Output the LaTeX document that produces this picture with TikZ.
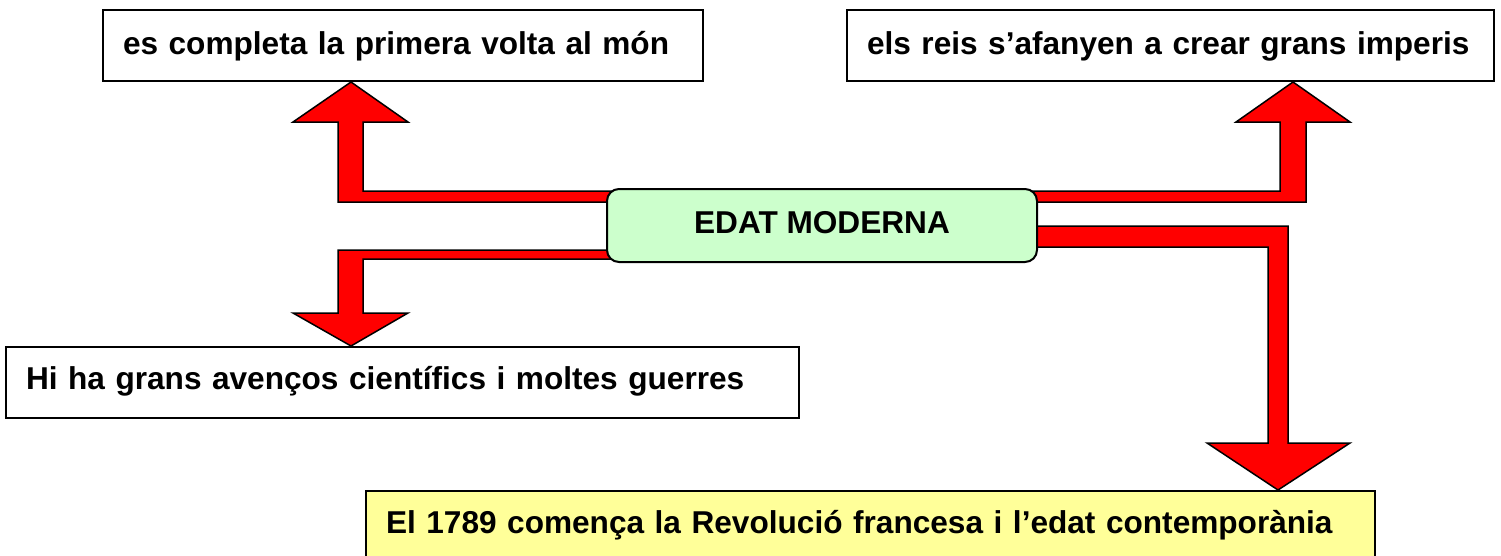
\documentclass[tikz,border=0pt]{standalone}
\usepackage{fontspec}
\setmainfont{Liberation Sans}
\usepackage{xcolor}
\usetikzlibrary{positioning}
\definecolor{menta}{HTML}{CCFFCC}
\definecolor{groc}{HTML}{FFFF99}
\pgfdeclarelayer{background}
\pgfsetlayers{background,main}

\begin{document}
\begin{tikzpicture}[x=1pt, y=-1pt, thick,
	box/.style={draw, line width=2pt, anchor=north west, inner xsep=20pt, inner ysep=0pt, text height=44pt, text depth=27pt, align=left, font=\bfseries\fontsize{31.6}{36}\selectfont},
	bigarrow/.style={draw, fill=red, line width=1.5pt, line join=miter}]
	\useasboundingbox (0,0) rectangle (1501,555);

	\node (centre) at (822,188) [box, anchor=north, fill=menta, rounded corners=12pt, minimum width=430pt, text height=44pt, text depth=29pt] {EDAT MODERNA};
	\node (primera) at (102,9) [box, text width=560pt] {es completa la primera volta al món};
	\node (imperis) at (846,9) [box, text width=607pt] {els reis s’afanyen a crear grans imperis};
	\node (guerres) at (5,346) [box, text width=753pt, text height=42pt, text depth=29pt] {Hi ha grans avenços científics i moltes guerres};
	\node (revolucio) at (365,490) [box, fill=groc, text width=969pt, text height=42pt, text depth=30pt] {El 1789 comença la Revolució francesa i l’edat contemporània};

	% fletxes grosses per darrere de la caixa central
	\begin{pgfonlayer}{background}
	\draw [bigarrow] (centre.center |- 0,191) -- (363,191) -- (363,122) -- (408,122) -- (351,0 |- primera.south) -- (293,122) -- (338,122) -- (338,202) -- (centre.center |- 0,202) -- cycle;
	\draw [bigarrow] (centre.center |- 0,250) -- (338,250) -- (338,313) -- (293,313) -- (351,0 |- guerres.north) -- (408,313) -- (363,313) -- (363,259) -- (centre.center |- 0,259) -- cycle;
	\draw [bigarrow] (centre.center |- 0,191) -- (1280,191) -- (1280,122) -- (1236,122) -- (1293,0 |- imperis.south) -- (1350,122) -- (1306,122) -- (1306,202) -- (centre.center |- 0,202) -- cycle;
	\draw [bigarrow] (centre.center |- 0,226) -- (1288,226) -- (1288,443) -- (1350,443) -- (1278,0 |- revolucio.north) -- (1207,443) -- (1268,443) -- (1268,247) -- (centre.center |- 0,247) -- cycle;
	\end{pgfonlayer}
\end{tikzpicture}
\end{document}
